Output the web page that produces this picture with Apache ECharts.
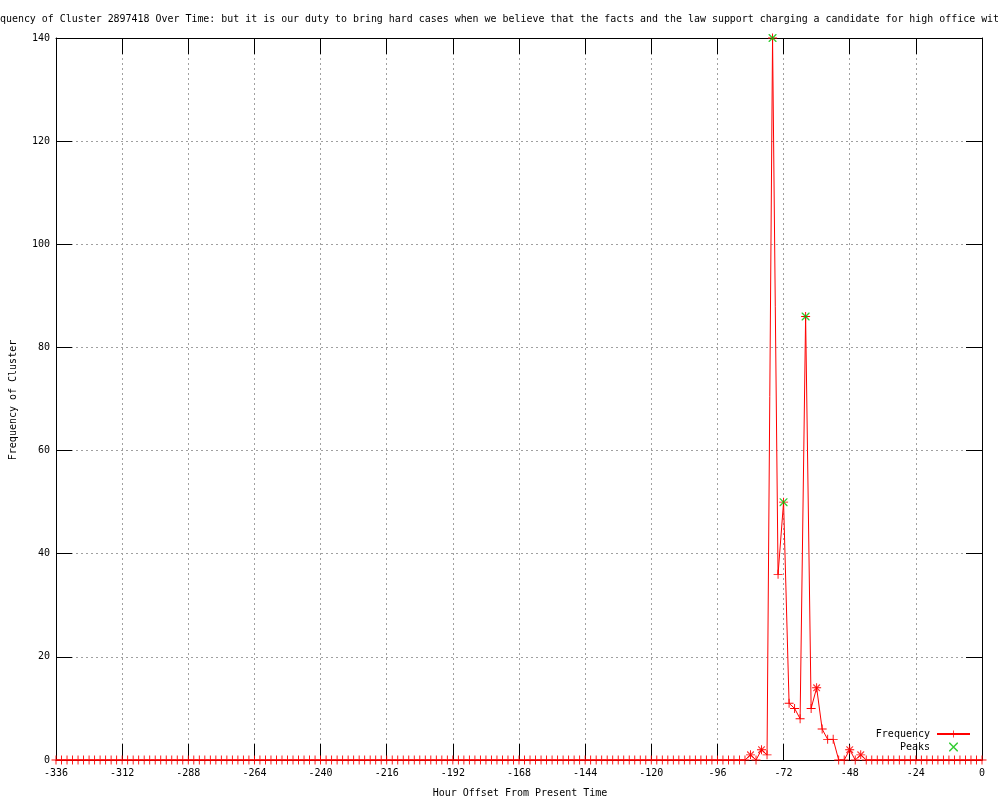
<!DOCTYPE html>
<html>
<head>
<meta charset="utf-8">
<script src="https://cdn.jsdelivr.net/npm/echarts@6/dist/echarts.min.js"></script>
<style>html,body{margin:0;padding:0;background:#fff;}#c{width:1000px;height:800px;}</style>
</head>
<body>
<div id="c"></div>
<script>
var titleText = "Frequency of Cluster 2897418 Over Time: but it is our duty to bring hard cases when we believe that the facts and the law support charging a candidate for high office wit";
var xLabel = "Hour Offset From Present Time";
var yLabel = "Frequency of Cluster";
var hours = [-336,-334,-332,-330,-328,-326,-324,-322,-320,-318,-316,-314,-312,-310,-308,-306,-304,-302,-300,-298,-296,-294,-292,-290,-288,-286,-284,-282,-280,-278,-276,-274,-272,-270,-268,-266,-264,-262,-260,-258,-256,-254,-252,-250,-248,-246,-244,-242,-240,-238,-236,-234,-232,-230,-228,-226,-224,-222,-220,-218,-216,-214,-212,-210,-208,-206,-204,-202,-200,-198,-196,-194,-192,-190,-188,-186,-184,-182,-180,-178,-176,-174,-172,-170,-168,-166,-164,-162,-160,-158,-156,-154,-152,-150,-148,-146,-144,-142,-140,-138,-136,-134,-132,-130,-128,-126,-124,-122,-120,-118,-116,-114,-112,-110,-108,-106,-104,-102,-100,-98,-96,-94,-92,-90,-88,-86,-84,-82,-80,-78,-76,-74,-72,-70,-68,-66,-64,-62,-60,-58,-56,-54,-52,-50,-48,-46,-44,-42,-40,-38,-36,-34,-32,-30,-28,-26,-24,-22,-20,-18,-16,-14,-12,-10,-8,-6,-4,-2,0];
var freq = [0,0,0,0,0,0,0,0,0,0,0,0,0,0,0,0,0,0,0,0,0,0,0,0,0,0,0,0,0,0,0,0,0,0,0,0,0,0,0,0,0,0,0,0,0,0,0,0,0,0,0,0,0,0,0,0,0,0,0,0,0,0,0,0,0,0,0,0,0,0,0,0,0,0,0,0,0,0,0,0,0,0,0,0,0,0,0,0,0,0,0,0,0,0,0,0,0,0,0,0,0,0,0,0,0,0,0,0,0,0,0,0,0,0,0,0,0,0,0,0,0,0,0,0,0,0,
  1,0,2,1,140,36,50,11,10,8,86,10,14,6,4,4,0,0,2,0,1,
  0,0,0,0,0,0,0,0,0,0,0,0,0,0,0,0,0,0,0,0,0,0];
var peakHours = [-76,-72,-64];
var peakValues = [140,50,86];
var minorPeakHours = [-84,-80,-60,-48,-44];
var minorPeakValues = [1,2,14,2,1];
var xTicks = [-336,-312,-288,-264,-240,-216,-192,-168,-144,-120,-96,-72,-48,-24,0];
var yTicks = [0,20,40,60,80,100,120,140];

var FONT = "'DejaVu Sans Mono', 'Liberation Mono', monospace";
var PLUS = 'path://M0,4.5L10,4.5L10,5.5L0,5.5Z M4.5,0L5.5,0L5.5,10L4.5,10Z';
var CROSS = 'path://M0,0L1.2,0L10,8.8L10,10L8.8,10L0,1.2Z M8.8,0L10,0L10,1.2L1.2,10L0,10L0,8.8Z';

var lineData = hours.map(function(h,i){return [h, freq[i]];});
var peakData = peakHours.map(function(h,i){return [h, peakValues[i]];});
var minorData = minorPeakHours.map(function(h,i){return [h, minorPeakValues[i]];});

var chart = echarts.init(document.getElementById('c'), null, {renderer:'canvas'});
var gridLine = {show:true, lineStyle:{color:'#a0a0a0', type:[2,3], width:1}};
var option = {
  animation:false,
  backgroundColor:'#ffffff',
  grid:{left:56, right:18, top:38, bottom:40, containLabel:false},
  xAxis:[{
    type:'value', min:-336, max:0, interval:24,
    axisLine:{show:true, onZero:false, lineStyle:{color:'#000', width:1}},
    axisTick:{show:true, inside:true, length:16, lineStyle:{color:'#000'}},
    axisLabel:{show:true, color:'#000', fontFamily:FONT, fontSize:10, margin:8},
    splitLine:gridLine
  },{
    type:'value', min:-336, max:0, interval:24, position:'top',
    axisLine:{show:true, onZero:false, lineStyle:{color:'#000', width:1}},
    axisTick:{show:true, inside:true, length:16, lineStyle:{color:'#000'}},
    axisLabel:{show:false}, splitLine:{show:false}
  }],
  yAxis:[{
    type:'value', min:0, max:140, interval:20,
    axisLine:{show:true, onZero:false, lineStyle:{color:'#000', width:1}},
    axisTick:{show:true, inside:true, length:16, lineStyle:{color:'#000'}},
    axisLabel:{show:true, color:'#000', fontFamily:FONT, fontSize:10, margin:6},
    splitLine:gridLine
  },{
    type:'value', min:0, max:140, interval:20, position:'right',
    axisLine:{show:true, onZero:false, lineStyle:{color:'#000', width:1}},
    axisTick:{show:true, inside:true, length:16, lineStyle:{color:'#000'}},
    axisLabel:{show:false}, splitLine:{show:false}
  }],
  legend:{
    orient:'vertical', align:'right', right:24, top:724,
    itemWidth:33, itemHeight:9, itemGap:3,
    textStyle:{fontFamily:FONT, fontSize:10, color:'#000', padding:[0,2,0,0]},
    data:[{name:'Frequency'},{name:'Peaks'}]
  },
  series:[{
    name:'Frequency', type:'line', data:lineData,
    xAxisIndex:0, yAxisIndex:0,
    symbol:PLUS, symbolSize:9, showAllSymbol:true,
    lineStyle:{color:'#ff0000', width:1}, itemStyle:{color:'#ff0000'},
    color:'#ff0000', clip:false, z:3
  },{
    name:'minor', type:'scatter', data:minorData,
    symbol:CROSS, symbolSize:7, itemStyle:{color:'#ff0000'}, z:4, clip:false
  },{
    name:'Peaks', type:'scatter', data:peakData,
    symbol:CROSS, symbolSize:8, itemStyle:{color:'#00c000'}, color:'#00c000', z:5, clip:false
  }],
  graphic:[
    {type:'text', left:-18, top:14, style:{text:titleText, font:"9.95px "+FONT, fill:'#000'}},
    {type:'text', x:520, y:793, style:{text:xLabel, font:"10px "+FONT, fill:'#000', textAlign:'center', textVerticalAlign:'middle'}},
    {type:'text', x:13, y:400, rotation:Math.PI/2, style:{text:yLabel, font:"10px "+FONT, fill:'#000', textAlign:'center', textVerticalAlign:'middle'}}
  ]
};
chart.setOption(option);
</script>
</body>
</html>
